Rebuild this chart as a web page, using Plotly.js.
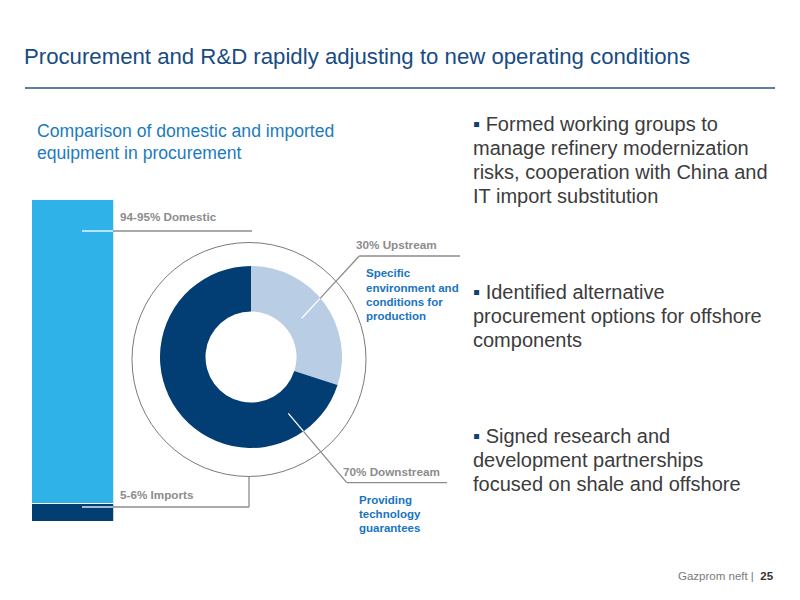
<!DOCTYPE html>
<html>
<head>
<meta charset="utf-8">
<script src="https://cdn.plot.ly/plotly-3.0.1.min.js"></script>
<style>
  html, body { margin: 0; padding: 0; background: #fff; }
  #chart { width: 800px; height: 600px; }
</style>
</head>
<body>
<div id="chart"></div>
<script>
// procurement split (stacked bar), shares in %
let barSegments = ['Imports', 'Domestic']
let barValues = [5.5, 94.5]
let barColors = ['#033e73', '#2fb2e8']
let barLabels = ['5-6% Imports', '94-95% Domestic']

// equipment by segment (donut)
let pieLabels = ['Upstream', 'Downstream']
let pieValues = [30, 70]
let pieColors = ['#b9cde5', '#023e74']
let pieTitles = ['30% Upstream', '70% Downstream']
let pieNotes = [
  ['Specific', 'environment and', 'conditions for', 'production'],
  ['Providing', 'technology', 'guarantees']
]

let slideTitle = 'Procurement and R&D rapidly adjusting to new operating conditions'
let chartTitle = ['Comparison of domestic and imported', 'equipment in procurement']
let bullets = [
  ['Formed working groups to', 'manage refinery modernization', 'risks, cooperation with China and', 'IT import substitution'],
  ['Identified alternative', 'procurement options for offshore', 'components'],
  ['Signed research and', 'development partnerships', 'focused on shale and offshore']
]

// pixel -> paper helpers (page is 800x600 with no margins)
function px(x){ return x / 800 }
function py(y){ return 1 - y / 600 }

const FONT = 'Liberation Sans, Arial, sans-serif'
const GREY = '#8c8c8c'
const NOTE_BLUE = '#1874c2'

function line(x0, y0, x1, y1, color, w){
  return {type: 'line', xref: 'paper', yref: 'paper',
    x0: px(x0), y0: py(y0), x1: px(x1), y1: py(y1),
    line: {color: color, width: w || 1.3}}
}

function label(x, y, text, opts){
  return Object.assign({xref: 'paper', yref: 'paper', x: px(x), y: py(y),
    text: text, showarrow: false, xanchor: 'left', yanchor: 'middle', align: 'left',
    font: {family: FONT, size: 11.7, color: GREY}}, opts || {})
}

let data = []
for (let i = 0; i < barSegments.length; i++){
  data.push({
    type: 'bar', x: [0], y: [barValues[i]], name: barSegments[i], width: 1,
    marker: {color: barColors[i], line: {color: '#ffffff', width: 1}},
    hoverinfo: 'none', xaxis: 'x', yaxis: 'y'
  })
}
data.push({
  type: 'pie', labels: pieLabels, values: pieValues, hole: 0.5,
  sort: false, direction: 'clockwise', rotation: 0,
  marker: {colors: pieColors, line: {width: 0}},
  textinfo: 'none', hoverinfo: 'none',
  domain: {x: [px(160), px(342)], y: [py(448), py(266)]}
})

let shapes = [
  line(25, 88, 775, 88, '#24548c', 1.5),
  // ring around the donut
  {type: 'circle', xref: 'paper', yref: 'paper',
   x0: px(132), x1: px(366), y0: py(476.5), y1: py(242.5),
   line: {color: '#7a7a7a', width: 1}},
  // domestic leader
  line(82, 231, 113, 231, '#ffffff'),
  line(113, 231, 252, 231, GREY),
  // imports leader
  line(82, 507, 113, 507, '#ffffff'),
  line(113, 507, 249, 507, GREY),
  line(249, 507, 249, 476.5, GREY),
  // upstream leader
  line(301.7, 318.3, 320.1, 298.4, '#ffffff'),
  line(320.1, 298.4, 359.3, 256, GREY),
  line(359.3, 256, 460, 256, GREY),
  // downstream leader
  line(288.3, 413.3, 303.5, 431.3, '#ffffff'),
  line(303.5, 431.3, 346.7, 482.7, GREY),
  line(346.7, 482.7, 447, 482.7, GREY)
]

let annotations = [
  label(22, 57, slideTitle, {font: {family: FONT, size: 22.2, color: '#174b84'}}),
  label(35, 131, chartTitle[0], {font: {family: FONT, size: 17.6, color: '#1b7bc1'}}),
  label(35, 153, chartTitle[1], {font: {family: FONT, size: 17.6, color: '#1b7bc1'}}),
  label(118, 216, '<b>' + barLabels[1] + '</b>'),
  label(118, 494, '<b>' + barLabels[0] + '</b>'),
  label(354, 244, '<b>' + pieTitles[0] + '</b>'),
  label(341, 471, '<b>' + pieTitles[1] + '</b>'),
  {xref: 'paper', yref: 'paper', x: px(776), y: py(576), xanchor: 'right', yanchor: 'middle',
   showarrow: false, text: 'Gazprom neft |  <b><span style="color:#333333">25</span></b>',
   font: {family: FONT, size: 11.5, color: '#7a7a7a'}}
]

// blue notes next to the donut, one line each
let noteStarts = [[364, 273.3], [357, 500]]
for (let i = 0; i < pieNotes.length; i++){
  for (let j = 0; j < pieNotes[i].length; j++){
    annotations.push(label(noteStarts[i][0], noteStarts[i][1] + j * 14.2, '<b>' + pieNotes[i][j] + '</b>',
      {font: {family: FONT, size: 11.5, color: NOTE_BLUE}}))
  }
}

// bullet blocks, one line each (24px apart)
let bulletTops = [124, 292, 436]
for (let i = 0; i < bullets.length; i++){
  for (let j = 0; j < bullets[i].length; j++){
    let txt = (j === 0 ? '<span style="color:#153f73">▪</span> ' : '') + bullets[i][j]
    annotations.push(label(471, bulletTops[i] + j * 24, txt, {font: {family: FONT, size: 20, color: '#3c3c3c'}}))
  }
}

let layout = {
  width: 800, height: 600,
  margin: {l: 0, r: 0, t: 0, b: 0},
  paper_bgcolor: '#ffffff', plot_bgcolor: '#ffffff',
  showlegend: false, barmode: 'stack', bargap: 0,
  xaxis: {domain: [px(31), px(113.5)], range: [-0.5, 0.5], visible: false, fixedrange: true},
  yaxis: {domain: [py(521), py(199)], range: [0, 100], visible: false, fixedrange: true},
  shapes: shapes,
  annotations: annotations
}

Plotly.newPlot('chart', data, layout, {displayModeBar: false, staticPlot: true})
</script>
</body>
</html>
